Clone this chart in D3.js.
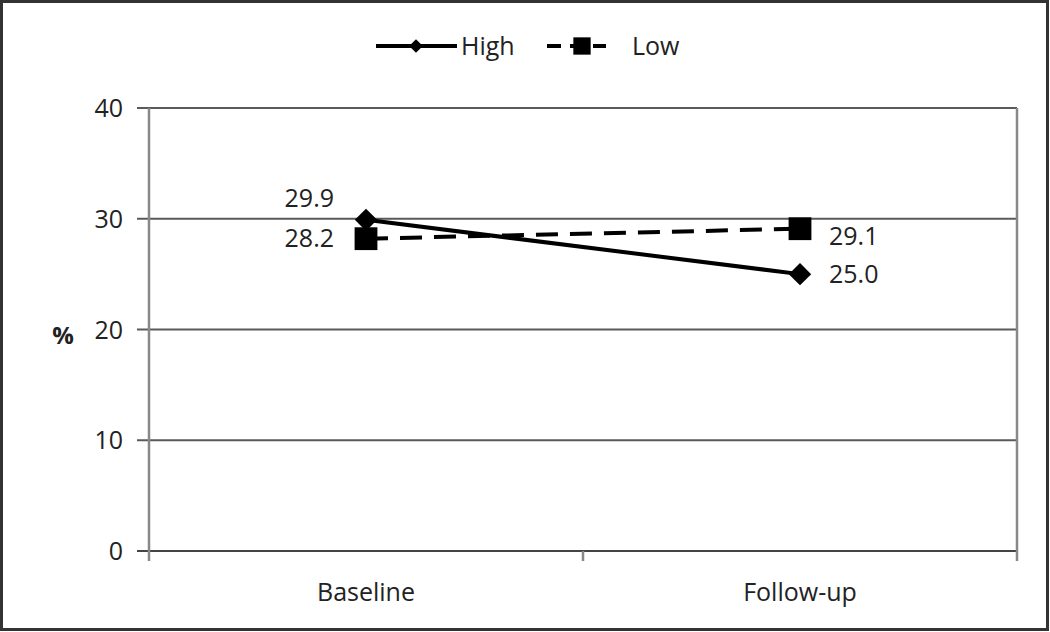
<!DOCTYPE html>
<html>
<head>
<meta charset="utf-8">
<script src="https://cdn.jsdelivr.net/npm/d3@7"></script>
<style>
  body { margin: 0; background: #fff; }
  svg text { font-family: "Open Sans", "Liberation Sans", sans-serif; fill: #222; }
</style>
</head>
<body>
<div id="chart"></div>
<script>
// data
const categories = ["Baseline", "Follow-up"];
const seriesNames = ["High", "Low"];
const highValues = [29.9, 25.0];
const lowValues = [28.2, 29.1];
const yTicks = [0, 10, 20, 30, 40];

const width = 1050, height = 632;
const margin = {top: 108, right: 33, bottom: 81, left: 149};

const svg = d3.select("#chart")
    .append("svg")
    .attr("width", width)
    .attr("height", height);

// outer frame
svg.append("rect")
    .attr("x", 1.5).attr("y", 1.5)
    .attr("width", width - 4).attr("height", height - 4)
    .attr("fill", "none")
    .attr("stroke", "#333")
    .attr("stroke-width", 3);

let x = d3.scaleBand()
    .domain(categories)
    .range([margin.left, width - margin.right]);

let y = d3.scaleLinear()
    .domain([0, 40])
    .range([height - margin.bottom, margin.top]);

// horizontal grid lines
svg.append("g")
    .selectAll("line")
    .data(yTicks)
    .enter()
    .append("line")
    .attr("x1", margin.left - 12)
    .attr("x2", width - margin.right)
    .attr("y1", d => y(d))
    .attr("y2", d => y(d))
    .attr("stroke", d => d === 0 ? "#444" : "#5a5a5a")
    .attr("stroke-width", 2);

// y axis labels
svg.append("g")
    .selectAll("text")
    .data(yTicks)
    .enter()
    .append("text")
    .attr("x", margin.left - 26)
    .attr("y", d => y(d) + 9)
    .attr("text-anchor", "end")
    .style("font-size", "25px")
    .text(d => d);

// left axis and right plot edge
[margin.left, width - margin.right].forEach(function(px) {
    svg.append("line")
        .attr("x1", px).attr("x2", px)
        .attr("y1", margin.top).attr("y2", height - margin.bottom + 10)
        .attr("stroke", "#888")
        .attr("stroke-width", 2.5);
});

// middle category tick
svg.append("line")
    .attr("x1", x(categories[1])).attr("x2", x(categories[1]))
    .attr("y1", height - margin.bottom).attr("y2", height - margin.bottom + 10)
    .attr("stroke", "#888")
    .attr("stroke-width", 2.5);

// category labels
svg.append("g")
    .selectAll("text")
    .data(categories)
    .enter()
    .append("text")
    .attr("x", d => x(d) + x.bandwidth() / 2)
    .attr("y", height - margin.bottom + 50)
    .attr("text-anchor", "middle")
    .style("font-size", "25px")
    .text(d => d);

// y title
svg.append("text")
    .attr("x", 63)
    .attr("y", y(20) + 14)
    .attr("text-anchor", "middle")
    .style("font-size", "24px")
    .style("font-weight", "bold")
    .text("%");

const cx = d => x(d) + x.bandwidth() / 2;

const line = d3.line()
    .x(d => cx(d.cat))
    .y(d => y(d.value));

const highData = categories.map((c, i) => ({cat: c, value: highValues[i]}));
const lowData = categories.map((c, i) => ({cat: c, value: lowValues[i]}));

const diamond = d3.symbol().type(d3.symbolDiamond2).size(320);
const square = d3.symbol().type(d3.symbolSquare).size(520);

// Low series (dashed, squares)
svg.append("path")
    .datum(lowData)
    .attr("d", line)
    .attr("fill", "none")
    .attr("stroke", "#000")
    .attr("stroke-width", 4)
    .attr("stroke-dasharray", "22,12");

svg.selectAll(".lowpt")
    .data(lowData)
    .enter()
    .append("path")
    .attr("class", "lowpt")
    .attr("d", square)
    .attr("transform", d => `translate(${cx(d.cat)},${y(d.value)})`)
    .attr("fill", "#000");

// High series (solid, diamonds)
svg.append("path")
    .datum(highData)
    .attr("d", line)
    .attr("fill", "none")
    .attr("stroke", "#000")
    .attr("stroke-width", 4);

svg.selectAll(".highpt")
    .data(highData)
    .enter()
    .append("path")
    .attr("class", "highpt")
    .attr("d", diamond)
    .attr("transform", d => `translate(${cx(d.cat)},${y(d.value)})`)
    .attr("fill", "#000");

// value labels
const labelPos = [
    {d: highData[0], dx: -32, dy: -13, anchor: "end"},
    {d: lowData[0], dx: -32, dy: 8, anchor: "end"},
    {d: lowData[1], dx: 29, dy: 16, anchor: "start"},
    {d: highData[1], dx: 29, dy: 9, anchor: "start"}
];
svg.selectAll(".vlabel")
    .data(labelPos)
    .enter()
    .append("text")
    .attr("class", "vlabel")
    .attr("x", p => cx(p.d.cat) + p.dx)
    .attr("y", p => y(p.d.value) + p.dy)
    .attr("text-anchor", p => p.anchor)
    .style("font-size", "25px")
    .text(p => p.d.value.toFixed(1));

// legend
const legend = svg.append("g").attr("transform", "translate(0,46)");

legend.append("line")
    .attr("x1", 376).attr("x2", 457).attr("y1", 0).attr("y2", 0)
    .attr("stroke", "#000").attr("stroke-width", 4);
legend.append("path")
    .attr("d", d3.symbol().type(d3.symbolDiamond2).size(120))
    .attr("transform", "translate(416,0)");
legend.append("text")
    .attr("x", 461).attr("y", 9)
    .style("font-size", "25px")
    .text(seriesNames[0]);

legend.append("line")
    .attr("x1", 547).attr("x2", 606).attr("y1", 0).attr("y2", 0)
    .attr("stroke", "#000").attr("stroke-width", 4)
    .attr("stroke-dasharray", "14,9");
legend.append("path")
    .attr("d", d3.symbol().type(d3.symbolSquare).size(300))
    .attr("transform", "translate(582,0)");
legend.append("text")
    .attr("x", 632).attr("y", 9)
    .style("font-size", "25px")
    .text(seriesNames[1]);
</script>
</body>
</html>
